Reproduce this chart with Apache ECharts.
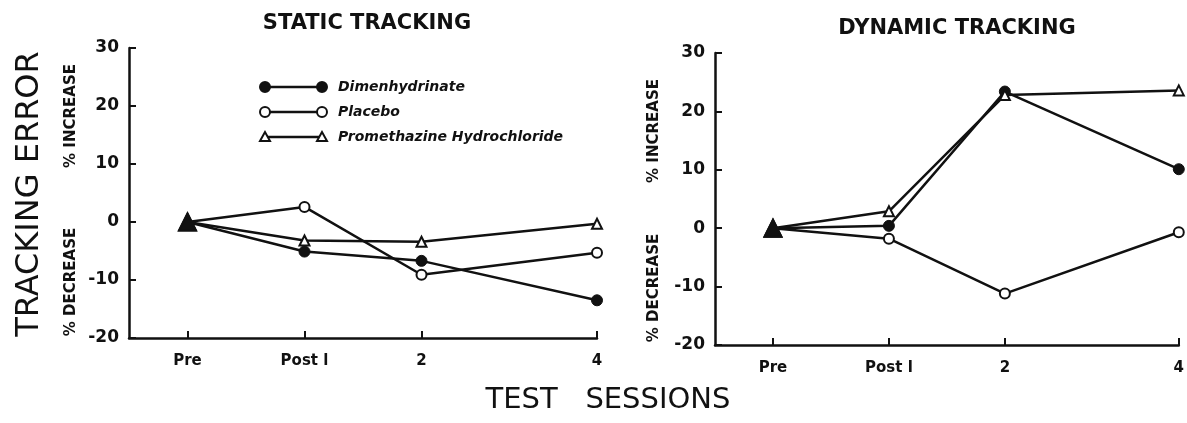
<!DOCTYPE html>
<html>
<head>
<meta charset="utf-8">
<script src="https://cdn.jsdelivr.net/npm/echarts@6/dist/echarts.min.js"></script>
<style>
	html, body { margin: 0; padding: 0; background: #fff; }
	#chart { width: 1187px; height: 423px; }
</style>
</head>
<body>
<div id="chart"></div>
<script>
// session positions on the x scale (4 sits 1.5 steps after 2) and their labels
const sessionPos = [ 0, 1, 2, 3.5 ];
const sessionLabels = [ "Pre", "Post l", "2", "4" ];
const yTicks = [ -20, -10, 0, 10, 20, 30 ];

// static tracking, % change of tracking error
const staticDimen = [ 0, -5.1, -6.7, -13.5 ];
const staticPlacebo = [ 0, 2.6, -9.1, -5.3 ];
const staticPrometh = [ 0, -3.2, -3.4, -0.3 ];

// dynamic tracking
const dynamicDimen = [ 0, 0.4, 23.4, 10.1 ];
const dynamicPlacebo = [ 0, -1.8, -11.2, -0.7 ];
const dynamicPrometh = [ 0, 2.9, 22.8, 23.6 ];

const seriesNames = [ "Dimenhydrinate", "Placebo", "Promethazine Hydrochloride" ];

const INK = "#111";
const boldFont = "DejaVu Sans";

const chart = echarts.init( document.getElementById( "chart" ) );

/* a line series; the shared Pre point is drawn as a big solid triangle */
function makeSeries( name, values, gridIdx, kind ) {
	const marker = {
		filled: { symbol: "circle", symbolSize: 11, itemStyle: { color: INK, borderColor: INK, borderWidth: 1 } },
		open: { symbol: "circle", symbolSize: 10, itemStyle: { color: "#fff", borderColor: INK, borderWidth: 2 } },
		tri: { symbol: "triangle", symbolSize: 10, itemStyle: { color: "#fff", borderColor: INK, borderWidth: 2 } }
	}[kind];
	return {
		name,
		type: "line",
		xAxisIndex: gridIdx,
		yAxisIndex: gridIdx,
		z: kind === "tri" ? 4 : 3,
		symbol: marker.symbol,
		symbolSize: marker.symbolSize,
		itemStyle: marker.itemStyle,
		lineStyle: { color: INK, width: 2.5 },
		animation: false,
		data: values.map( ( v, i ) => i === 0 ? {
			value: [ sessionPos[i], v ],
			symbol: "triangle",
			symbolSize: 17,
			itemStyle: { color: INK, borderColor: INK }
		} : [ sessionPos[i], v ] )
	};
}

function makeXAxis( gridIndex ) {
	return {
		type: "value",
		gridIndex,
		min: -0.5,
		max: 3.5,
		axisLine: { show: true, onZero: false, lineStyle: { color: INK, width: 2.5 } },
		axisTick: { show: true, inside: true, length: 7, customValues: sessionPos, lineStyle: { color: INK, width: 2 } },
		axisLabel: {
			customValues: sessionPos,
			formatter: v => sessionLabels[ sessionPos.indexOf( v ) ] ?? "",
			color: INK,
			fontFamily: boldFont,
			fontWeight: "bold",
			fontSize: 15,
			margin: 16
		},
		splitLine: { show: false }
	};
}

function makeYAxis( gridIndex ) {
	return {
		type: "value",
		gridIndex,
		min: -20,
		max: 30,
		interval: 10,
		axisLine: { show: true, onZero: false, lineStyle: { color: INK, width: 2.5 } },
		axisTick: { show: true, inside: true, length: 7, lineStyle: { color: INK, width: 2 } },
		axisLabel: {
			customValues: yTicks,
			color: INK,
			fontFamily: boldFont,
			fontWeight: "bold",
			fontSize: 17,
			margin: 10
		},
		splitLine: { show: false }
	};
}

/* hand drawn legend: marker — line — marker, then the name */
function legendRow( y, kind, label ) {
	const x1 = 265, x2 = 322;
	const items = [ { type: "line", shape: { x1, y1: y, x2, y2: y }, style: { stroke: INK, lineWidth: 2.5 } } ];
	for ( const cx of [ x1, x2 ] ) {
		if ( kind === "tri" ) {
			items.push( { type: "polygon", shape: { points: [ [ cx, y - 5 ], [ cx - 5, y + 4 ], [ cx + 5, y + 4 ] ] },
				style: { fill: "#fff", stroke: INK, lineWidth: 2 } } );
		} else {
			items.push( { type: "circle", shape: { cx, cy: y, r: 5 },
				style: { fill: kind === "filled" ? INK : "#fff", stroke: INK, lineWidth: 2 } } );
		}
	}
	items.push( { type: "text", x: 338, y, style: {
		text: label, fill: INK, font: `italic bold 14px ${ boldFont }`, verticalAlign: "middle"
	} } );
	return items;
}

function vText( x, y, text, size, weight ) {
	return { type: "text", x, y, rotation: Math.PI / 2, style: {
		text, fill: INK, font: `${ weight } ${ size }px ${ boldFont }`, align: "center", verticalAlign: "middle"
	} };
}

const option = {
	backgroundColor: "#fff",
	animation: false,
	title: [ {
		text: "STATIC TRACKING", left: 362, top: 8, textAlign: "center",
		textStyle: { color: INK, fontFamily: boldFont, fontWeight: "bold", fontSize: 21 }
	}, {
		text: "DYNAMIC TRACKING", left: 952, top: 13, textAlign: "center",
		textStyle: { color: INK, fontFamily: boldFont, fontWeight: "bold", fontSize: 21 }
	} ],
	grid: [
		{ left: 129, top: 48, width: 468, height: 290 },
		{ left: 715, top: 53, width: 470, height: 292 }
	],
	xAxis: [ makeXAxis( 0 ), makeXAxis( 1 ) ],
	yAxis: [ makeYAxis( 0 ), makeYAxis( 1 ) ],
	series: [
		makeSeries( seriesNames[0], staticDimen, 0, "filled" ),
		makeSeries( seriesNames[1], staticPlacebo, 0, "open" ),
		makeSeries( seriesNames[2], staticPrometh, 0, "tri" ),
		makeSeries( seriesNames[0], dynamicDimen, 1, "filled" ),
		makeSeries( seriesNames[1], dynamicPlacebo, 1, "open" ),
		makeSeries( seriesNames[2], dynamicPrometh, 1, "tri" )
	],
	graphic: [
		...legendRow( 87, "filled", seriesNames[0] ),
		...legendRow( 112, "open", seriesNames[1] ),
		...legendRow( 137, "tri", seriesNames[2] ),
		vText( 30, 194, "TRACKING ERROR", 32, "normal" ),
		vText( 71, 116, "% INCREASE", 15, "bold" ),
		vText( 71, 282, "% DECREASE", 15, "bold" ),
		vText( 654, 131, "% INCREASE", 15, "bold" ),
		vText( 654, 288, "% DECREASE", 15, "bold" ),
		{ type: "text", x: 608, y: 400, style: {
			text: "TEST   SESSIONS", fill: INK, font: `normal 29px ${ boldFont }`, align: "center", verticalAlign: "middle"
		} }
	]
};

chart.setOption( option );
</script>
</body>
</html>
